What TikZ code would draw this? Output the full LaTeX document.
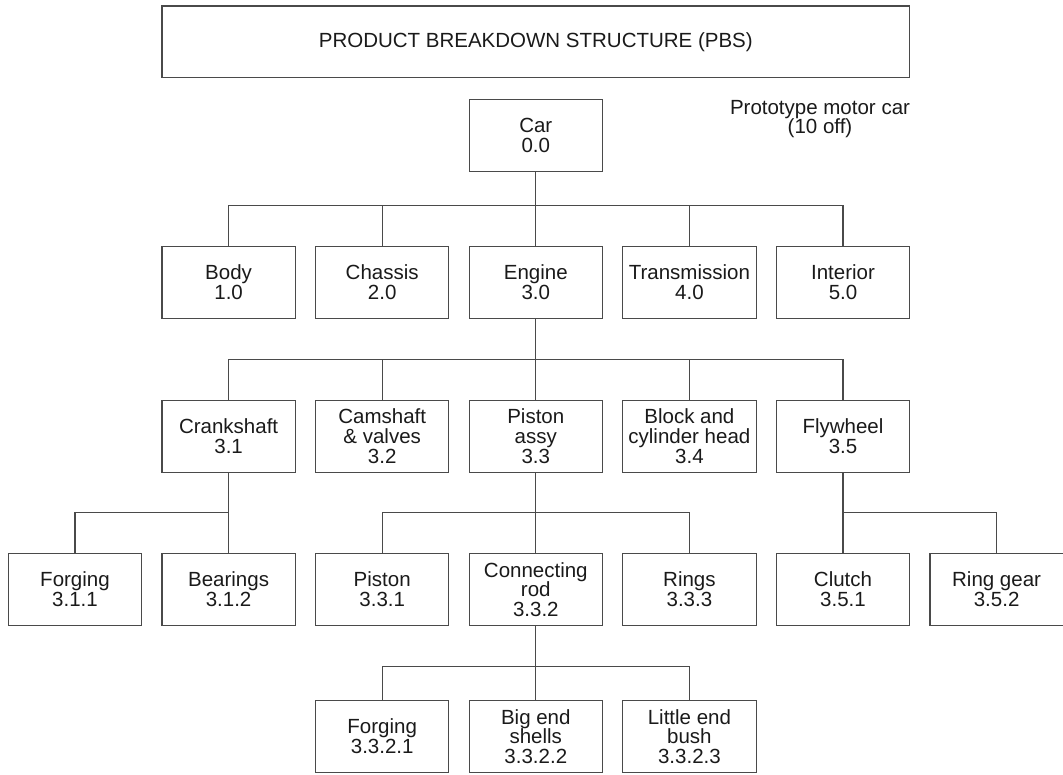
\documentclass[tikz,border=0pt]{standalone}
\usepackage{fontspec}
\setmainfont{Liberation Sans}
\definecolor{linec}{HTML}{4A4A4A}
\definecolor{textc}{HTML}{1A1A1A}
\begin{document}
\begin{tikzpicture}[x=1pt,y=-1pt,
  box/.style={draw=linec, line width=1.1pt, rectangle, minimum width=133.3pt, minimum height=71.7pt,
    inner sep=0pt, align=center, text=textc, font=\fontsize{20.5}{19.8}\selectfont},
  conn/.style={draw=linec, line width=1.1pt}]
\useasboundingbox (0,0) rectangle (1063,774);
% title
\node[box, minimum width=747.7pt] (title) at (535.8,41.8) {PRODUCT BREAKDOWN STRUCTURE (PBS)};
\node[align=center, text=textc, font=\fontsize{20.5}{19.8}\selectfont, inner sep=0pt] (note) at (820,119) {Prototype motor car\\(10 off)};
% level 0
\node[box] (car) at (535.8,135.5) {Car\\0.0};
% level 1
\node[box] (body) at (228.6,282.5) {Body\\1.0};
\node[box] (chassis) at (382.2,282.5) {Chassis\\2.0};
\node[box] (engine) at (535.8,282.5) {Engine\\3.0};
\node[box] (trans) at (689.4,282.5) {Transmission\\4.0};
\node[box] (interior) at (843,282.5) {Interior\\5.0};
% level 2
\node[box] (crank) at (228.6,436.2) {Crankshaft\\3.1};
\node[box] (cam) at (382.2,436.2) {Camshaft\\\&\ valves\\3.2};
\node[box] (piston) at (535.8,436.2) {Piston\\assy\\3.3};
\node[box] (block) at (689.4,436.2) {Block and\\cylinder head\\3.4};
\node[box] (fly) at (843,436.2) {Flywheel\\3.5};
% level 3
\node[box] (forg1) at (75,589.5) {Forging\\3.1.1};
\node[box] (bear) at (228.6,589.5) {Bearings\\3.1.2};
\node[box] (pist) at (382.2,589.5) {Piston\\3.3.1};
\node[box] (rod) at (535.8,589.5) {Connecting\\rod\\3.3.2};
\node[box] (rings) at (689.4,589.5) {Rings\\3.3.3};
\node[box] (clutch) at (843,589.5) {Clutch\\3.5.1};
\node[box] (rgear) at (996.6,589.5) {Ring gear\\3.5.2};
% level 4
\node[box] (forg2) at (382.2,736.5) {Forging\\3.3.2.1};
\node[box] (bigend) at (535.8,736.5) {Big end\\shells\\3.3.2.2};
\node[box] (little) at (689.4,736.5) {Little end\\bush\\3.3.2.3};
% bar levels
\coordinate (b1) at (0,205.7);
\coordinate (b2) at (0,359.3);
\coordinate (b3) at (0,512.7);
\coordinate (b4) at (0,666.7);
% connectors
\foreach \c in {body,chassis,engine,trans,interior}
  \draw[conn] (car.south) -- (car.south |- b1) -| (\c.north);
\foreach \c in {crank,cam,piston,block,fly}
  \draw[conn] (engine.south) -- (engine.south |- b2) -| (\c.north);
\foreach \c in {forg1,bear}
  \draw[conn] (crank.south) -- (crank.south |- b3) -| (\c.north);
\foreach \c in {pist,rod,rings}
  \draw[conn] (piston.south) -- (piston.south |- b3) -| (\c.north);
\foreach \c in {clutch,rgear}
  \draw[conn] (fly.south) -- (fly.south |- b3) -| (\c.north);
\foreach \c in {forg2,bigend,little}
  \draw[conn] (rod.south) -- (rod.south |- b4) -| (\c.north);
\end{tikzpicture}
\end{document}
